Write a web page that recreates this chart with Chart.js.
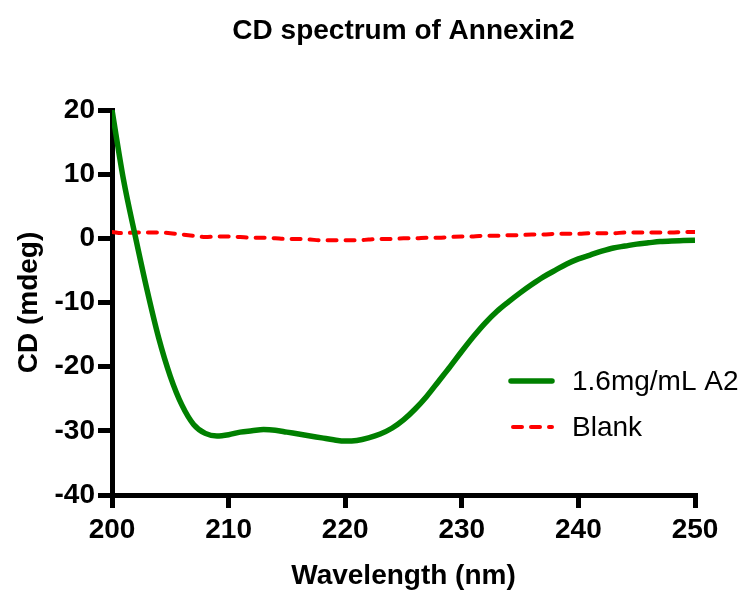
<!DOCTYPE html>
<html>
<head>
<meta charset="utf-8">
<script src="https://cdn.jsdelivr.net/npm/chart.js@4"></script>
<style>
html,body{margin:0;padding:0;background:#fff;}
#wrap{width:745px;height:594px;position:relative;}
</style>
</head>
<body>
<div id="wrap"><canvas id="c" width="745" height="594"></canvas></div>
<script>
const chartTitle = "CD spectrum of Annexin2";
const xTitle = "Wavelength (nm)";
const yTitle = "CD (mdeg)";
const wavelengths = [200,201,202,203,204,205,206,207,208,209,210,211,212,213,214,215,216,217,218,219,220,221,222,223,224,225,226,227,228,229,230,231,232,233,234,235,236,237,238,239,240,241,242,243,244,245,246,247,248,249,250];
const sampleLabel = "1.6mg/mL A2";
const sampleCD = [20,9,0.3,-8,-15.5,-21.5,-26,-29,-30.4,-30.8,-30.6,-30.2,-30.0,-29.8,-29.9,-30.2,-30.5,-30.8,-31.1,-31.4,-31.6,-31.5,-31.1,-30.5,-29.6,-28.3,-26.6,-24.6,-22.3,-20.0,-17.6,-15.3,-13.2,-11.4,-9.9,-8.5,-7.2,-6.0,-5.0,-4.0,-3.2,-2.6,-2.0,-1.5,-1.2,-0.9,-0.7,-0.5,-0.4,-0.35,-0.3];
const blankLabel = "Blank";
const blankCD = [1.0,0.8,0.9,0.9,0.9,0.8,0.6,0.4,0.2,0.3,0.3,0.2,0.1,0.1,0.0,-0.1,-0.1,-0.2,-0.3,-0.3,-0.3,-0.3,-0.2,-0.1,-0.1,0.0,0.0,0.1,0.1,0.2,0.3,0.3,0.4,0.4,0.5,0.5,0.6,0.6,0.7,0.7,0.7,0.8,0.8,0.8,0.9,0.9,0.9,0.9,0.9,1.0,1.0];
const xTicks = [200,210,220,230,240,250];
const yTicks = [20,10,0,-10,-20,-30,-40];

const FONT = "'Liberation Sans', Arial, Helvetica, sans-serif";

const toXY = (arr) => wavelengths.map((w, i) => ({x: w, y: arr[i]}));

const overlay = {
  id: 'overlay',
  afterDraw(chart) {
    const ctx = chart.ctx, a = chart.chartArea;
    ctx.save();
    ctx.fillStyle = '#000';
    ctx.font = "bold 28px " + FONT;
    ctx.textAlign = 'center';
    ctx.textBaseline = 'alphabetic';
    ctx.fillText(chartTitle, (a.left + a.right) / 2, 39);
    // legend
    const items = chart.data.datasets;
    const x0 = 511, x1 = 552, tx = 572;
    const ys = [381, 427];
    items.forEach((ds, i) => {
      ctx.save();
      ctx.strokeStyle = ds.borderColor;
      ctx.lineWidth = ds.borderWidth;
      ctx.lineCap = 'round';
      ctx.setLineDash(ds.borderDash || []);
      ctx.beginPath();
      ctx.moveTo(x0 + (ds.borderDash ? 2 : 0), ys[i]);
      ctx.lineTo(x1, ys[i]);
      ctx.stroke();
      ctx.restore();
      ctx.font = "28px " + FONT;
      ctx.textAlign = 'left';
      ctx.textBaseline = 'middle';
      ctx.fillStyle = '#000';
      ctx.fillText(ds.label, tx, ys[i] + 1);
    });
    ctx.restore();
  }
};

new Chart(document.getElementById('c'), {
  type: 'line',
  data: {
    datasets: [
      {label: sampleLabel, data: toXY(sampleCD), borderColor: '#008000', borderWidth: 5.5, pointRadius: 0, cubicInterpolationMode: 'monotone', fill: false},
      {label: blankLabel, data: toXY(blankCD), borderColor: '#ff0000', borderWidth: 4, borderDash: [9, 9], borderCapStyle: 'round', pointRadius: 0, cubicInterpolationMode: 'monotone', fill: false}
    ]
  },
  options: {
    responsive: false,
    animation: false,
    layout: {padding: {top: 110, right: 50, left: 0, bottom: 0}},
    plugins: {legend: {display: false}, title: {display: false}, tooltip: {enabled: false}},
    scales: {
      x: {
        type: 'linear', min: 200, max: 250,
        afterBuildTicks: (s) => { s.ticks = xTicks.map(v => ({value: v})); },
        afterFit: (s) => { s.height = 99; },
        grid: {drawOnChartArea: false, tickLength: 13, lineWidth: 5, color: '#000', tickColor: '#000'},
        border: {display: true, width: 5, color: '#000'},
        ticks: {color: '#000', font: {family: FONT, size: 28, weight: 'bold'}, padding: 5, maxRotation: 0},
        title: {display: true, text: xTitle, color: '#000', font: {family: FONT, size: 28, weight: 'bold'}, padding: {top: 0, bottom: 1}}
      },
      y: {
        type: 'linear', min: -40, max: 20,
        afterBuildTicks: (s) => { s.ticks = yTicks.map(v => ({value: v})); },
        afterFit: (s) => { s.width = 112; },
        grid: {drawOnChartArea: false, tickLength: 14, lineWidth: 5, color: '#000', tickColor: '#000'},
        border: {display: true, width: 5, color: '#000'},
        ticks: {color: '#000', font: {family: FONT, size: 28, weight: 'bold'}, padding: 3},
        title: {display: true, text: yTitle, color: '#000', font: {family: FONT, size: 28, weight: 'bold'}, padding: {top: 12, bottom: 0}}
      }
    }
  },
  plugins: [overlay]
});
</script>
</body>
</html>
